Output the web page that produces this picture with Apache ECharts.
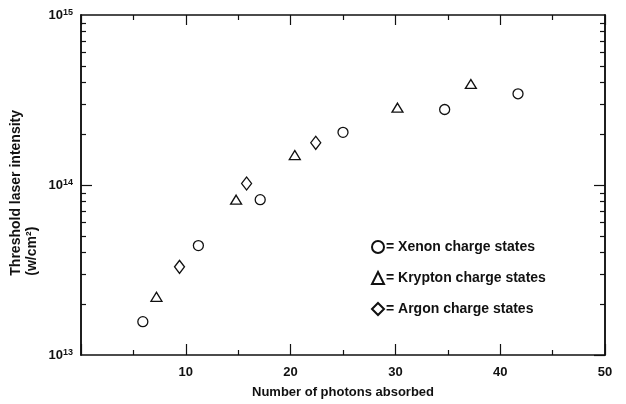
<!DOCTYPE html>
<html><head><meta charset="utf-8">
<script src="https://cdn.jsdelivr.net/npm/echarts@6/dist/echarts.min.js"></script>
<style>html,body{margin:0;padding:0;background:#fff}#c{width:626px;height:404px}</style>
</head><body><div id="c"></div>
<script>
const xenonX = [5.9, 11.2, 17.1, 25.0, 34.7, 41.7];
const xenonY = [1.57e13, 4.4e13, 8.2e13, 2.04e14, 2.78e14, 3.44e14];
const kryptonX = [7.2, 14.8, 20.4, 30.2, 37.2];
const kryptonY = [2.2e13, 8.2e13, 1.5e14, 2.85e14, 3.93e14];
const argonX = [9.4, 15.8, 22.4];
const argonY = [3.3e13, 1.02e14, 1.77e14];
const seriesNames = ['Xenon charge states', 'Krypton charge states', 'Argon charge states'];
const xTicks = [10, 20, 30, 40, 50];
const yMajor = [1e13, 1e14, 1e15];
const yMinor = [2e13,3e13,4e13,5e13,6e13,7e13,8e13,9e13,2e14,3e14,4e14,5e14,6e14,7e14,8e14,9e14];
const xAxisTitle = 'Number of photons absorbed';
const yAxisTitle = ['Threshold laser intensity', '(w/cm²)'];

const FONT = 'Liberation Sans';
const chart = echarts.init(document.getElementById('c'), null, {renderer: 'canvas'});
const pts = (xs, ys) => xs.map((x, i) => [x, ys[i]]);
const lineStyle = {color: '#111', width: 1.5};
function yAx(pos, customTicks, len, labels) {
  return {
    type: 'log', logBase: 10, min: 1e13, max: 1e15, position: pos,
    axisLine: {show: true, onZero: false, lineStyle},
    splitLine: {show: false},
    minorTick: {show: false},
    axisTick: {show: true, inside: true, length: len, customValues: customTicks, lineStyle: {color: '#111', width: 1.2}},
    axisLabel: labels ? {
      show: true, margin: 8,
      formatter: v => '{b|10}{s|' + Math.round(Math.log10(v)) + '}',
      rich: {
        b: {fontFamily: FONT, fontWeight: 'bold', fontSize: 13, color: '#111', verticalAlign: 'bottom', lineHeight: 14, padding: [4,0,0,0]},
        s: {fontFamily: FONT, fontWeight: 'bold', fontSize: 9, color: '#111', verticalAlign: 'top', padding: [0,0,4,0], lineHeight: 14}
      }
    } : {show: false}
  };
}
function xAx(pos, labels, majorLen) {
  return {
    type: 'value', min: 0, max: 50, interval: 10, position: pos,
    axisLine: {show: true, onZero: false, lineStyle},
    splitLine: {show: false},
    axisTick: {show: true, inside: true, length: majorLen, lineStyle: {color: '#111', width: 1.2}},
    minorTick: {show: true, splitNumber: 2, length: 5, lineStyle: {color: '#111', width: 1.2}},
    axisLabel: labels ? {
      show: true, margin: 11, customValues: xTicks,
      fontFamily: FONT, fontWeight: 'bold', fontSize: 13, color: '#111'
    } : {show: false},
    name: labels ? xAxisTitle : '',
    nameLocation: 'middle', nameGap: 31,
    nameTextStyle: {fontFamily: FONT, fontWeight: 'bold', fontSize: 13, color: '#111'}
  };
}
const sym = {color: '#fff', borderColor: '#111', borderWidth: 1.3, opacity: 1};
chart.setOption({
  animation: false,
  backgroundColor: '#fff',
  grid: {left: 81, right: 21, top: 15, bottom: 41, containLabel: false},
  xAxis: [xAx('bottom', true, 11), xAx('top', false, 10)],
  yAxis: [
    yAx('left', yMajor, 11, true), yAx('left', yMinor, 5, false),
    yAx('right', yMajor, 11, false), yAx('right', yMinor, 5, false)
  ],
  legend: {
    show: true, orient: 'vertical', left: 366, top: 235,
    itemWidth: 12, itemHeight: 12, itemGap: 17,
    data: seriesNames,
    formatter: n => '= ' + n,
    textStyle: {fontFamily: FONT, fontWeight: 'bold', fontSize: 14, color: '#111', padding: [0,0,0,-3]},
    selectedMode: false
  },
  graphic: [{
    type: 'text', left: 8, top: 110, rotation: Math.PI / 2,
    style: {text: yAxisTitle[0] + '\n' + yAxisTitle[1], fontFamily: FONT, fontWeight: 'bold', fontSize: 14, fill: '#111', align: 'center', lineHeight: 16}
  }],
  series: [
    {name: seriesNames[0], type: 'scatter', symbol: 'circle', symbolSize: 10, data: pts(xenonX, xenonY), itemStyle: sym},
    {name: seriesNames[1], type: 'scatter', symbol: 'triangle', symbolSize: [11, 9], data: pts(kryptonX, kryptonY), itemStyle: sym},
    {name: seriesNames[2], type: 'scatter', symbol: 'diamond', symbolSize: [10, 13], data: pts(argonX, argonY), itemStyle: sym}
  ]
});
</script></body></html>
